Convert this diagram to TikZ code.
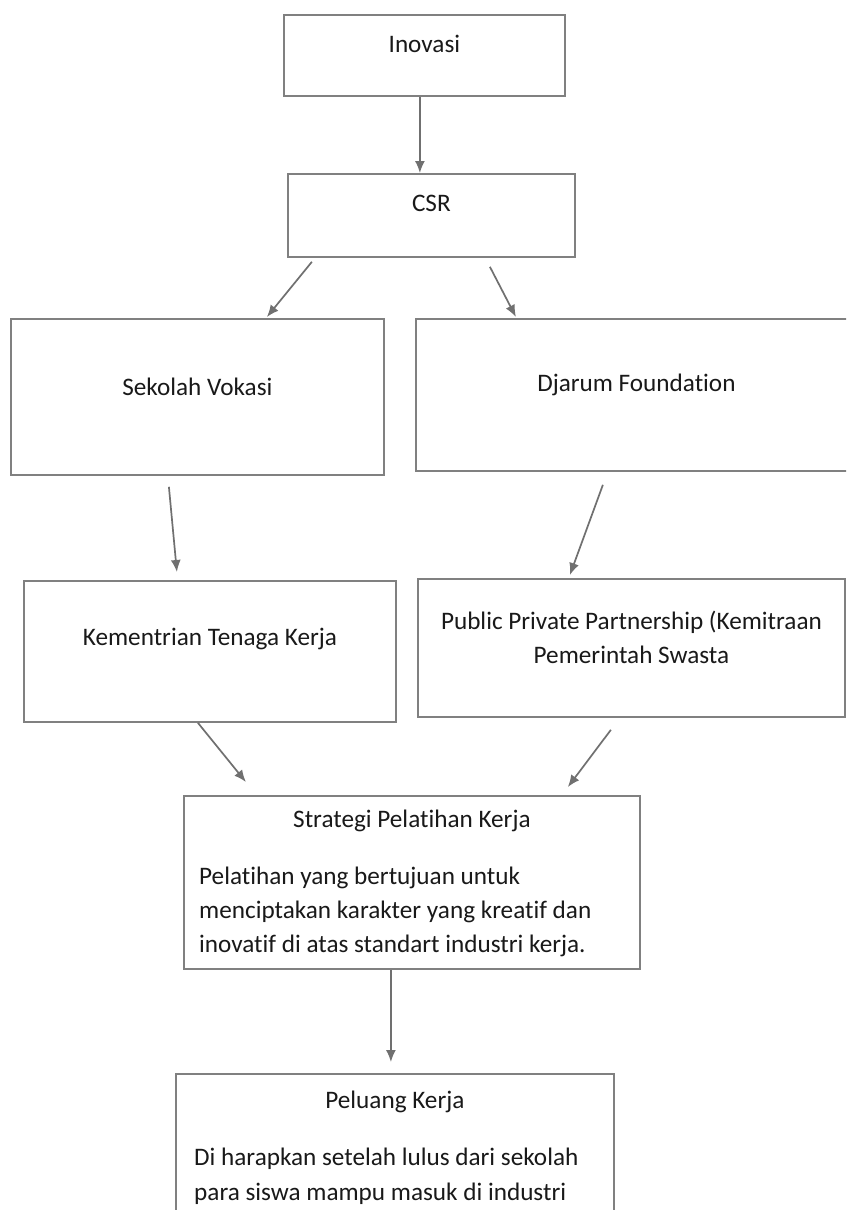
\documentclass[tikz,border=0pt]{standalone}
\usepackage{fontspec}
\setmainfont{Carlito}[Ligatures=NoCommon]
\usetikzlibrary{arrows.meta}
\definecolor{linegray}{RGB}{128,128,128}
\definecolor{arrgray}{RGB}{112,112,112}
\definecolor{txt}{RGB}{25,25,25}
\begin{document}
\begin{tikzpicture}[x=1pt,y=-1pt,
  box/.style={draw=linegray, line width=1.8pt, inner sep=0pt, anchor=north west},
  lbl/.style={text=txt, inner sep=0pt, font=\fontsize{25.2pt}{34pt}\selectfont, anchor=base},
  body/.style={lbl, anchor=base west},
  arr/.style={draw=arrgray, line width=1.7pt, -{Latex[length=12pt,width=10pt]}}]
\useasboundingbox (0,0) rectangle (846,1210);
\clip (0,0) rectangle (846,1210);
\fill[white] (0,0) rectangle (846,1210);
% boxes
\node[box, minimum width=281pt, minimum height=81pt] (ino) at (283,14) {};
\node[box, minimum width=287pt, minimum height=83pt] (csr) at (287,173) {};
\node[box, minimum width=373pt, minimum height=156pt] (sek) at (10,318) {};
\node[box, minimum width=441pt, minimum height=152pt] (dja) at (415,318) {};
\node[box, minimum width=372pt, minimum height=141pt] (kem) at (23,580) {};
\node[box, minimum width=427pt, minimum height=138pt] (ppp) at (417,578) {};
\node[box, minimum width=456pt, minimum height=173pt] (str) at (183,795) {};
\node[box, minimum width=438pt, minimum height=160pt] (pel) at (175,1073) {};
% labels
\node[lbl] (tino) at ([yshift=-38pt]ino.north) {Inovasi};
\node[lbl] (tcsr) at ([yshift=-38pt]csr.north) {CSR};
\node[lbl] (tsek) at ([yshift=-77pt]sek.north) {Sekolah Vokasi};
\node[lbl] (tdja) at ([yshift=-73pt]dja.north) {Djarum Foundation};
\node[lbl] (tkem) at ([yshift=-65pt]kem.north) {Kementrian Tenaga Kerja};
\node[lbl] (tppp1) at ([yshift=-51pt]ppp.north) {Public Private Partnership (Kemitraan};
\node[lbl] (tppp2) at ([yshift=-85pt]ppp.north) {Pemerintah Swasta};
\node[lbl] (tstr) at ([yshift=-32pt]str.north) {Strategi Pelatihan Kerja};
\node[body] (bstr1) at ([xshift=16pt,yshift=-89pt]str.north west) {Pelatihan yang bertujuan untuk};
\node[body] (bstr2) at ([xshift=16pt,yshift=-123pt]str.north west) {menciptakan karakter yang kreatif dan};
\node[body] (bstr3) at ([xshift=16pt,yshift=-157pt]str.north west) {inovatif di atas standart industri kerja.};
\node[lbl] (tpel) at ([yshift=-35pt]pel.north) {Peluang Kerja};
\node[body] (bpel1) at ([xshift=19pt,yshift=-92pt]pel.north west) {Di harapkan setelah lulus dari sekolah};
\node[body] (bpel2) at ([xshift=19pt,yshift=-127pt]pel.north west) {para siswa mampu masuk di industri};
% connectors
\draw[arr] ([xshift=-4.5pt]ino.south) -- ([xshift=-11.5pt]csr.north);
\draw[arr] ([xshift=-119.5pt,yshift=-4pt]csr.south) -- ([xshift=69.5pt,yshift=1pt]sek.north);
\draw[arr] ([xshift=58.5pt,yshift=-9pt]csr.south) -- ([xshift=-120.5pt,yshift=1pt]dja.north);
\draw[arr] ([xshift=-28.5pt,yshift=-11pt]sek.south) -- ([xshift=-33pt,yshift=8pt]kem.north);
\draw[arr] ([xshift=-33.5pt,yshift=-13pt]dja.south) -- ([xshift=-61.5pt,yshift=3pt]ppp.north);
\draw[arr] ([xshift=-12pt]kem.south) -- ([xshift=-166pt,yshift=13pt]str.north);
\draw[arr] ([xshift=-20.5pt,yshift=-12pt]ppp.south) -- ([xshift=156pt,yshift=8pt]str.north);
\draw[arr] ([xshift=-21pt]str.south) -- ([xshift=-4pt,yshift=11pt]pel.north);
\end{tikzpicture}
\end{document}
